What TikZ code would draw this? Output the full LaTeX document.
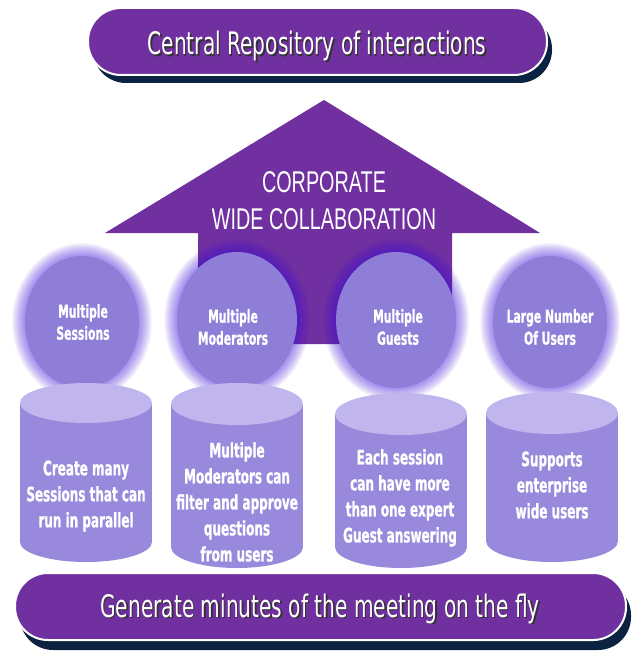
\documentclass[tikz,border=0pt]{standalone}
\usepackage{fontspec}
\newfontfamily\banfont[FakeStretch=0.65]{DejaVu Sans}
\newfontfamily\boldfont[FakeStretch=0.6,BoldFeatures={FakeBold=0.8}]{DejaVu Sans}
\newfontfamily\arrfont[FakeStretch=0.66]{Liberation Sans}
\definecolor{purp}{HTML}{7030A0}
\definecolor{navy}{HTML}{0B2240}
\definecolor{glowc}{HTML}{4010E0}
\definecolor{circ}{HTML}{8E7ED8}
\definecolor{cylbody}{HTML}{9989DC}
\definecolor{cyltop}{HTML}{C0B5EC}
\tikzset{
  bantext/.style={text=white,font=\banfont\fontsize{31}{36}\selectfont,inner sep=0pt,anchor=base},
  banshadow/.style={text=black!80,font=\banfont\fontsize{31}{36}\selectfont,inner sep=0pt,anchor=base},
  arrtext/.style={text=white,font=\arrfont\fontsize{30}{37}\selectfont,inner sep=0pt,anchor=base},
  circtext/.style={text=white,font=\boldfont\bfseries\fontsize{18}{22}\selectfont,align=center,inner sep=0pt},
  cyltext/.style={text=white,font=\boldfont\bfseries\fontsize{20}{26}\selectfont,align=center,inner sep=0pt},
}
\newcommand{\glowell}[4]{%
  \foreach \k in {0,...,13}{\fill[glowc,opacity=0.045] (#1,#2) ellipse [x radius=#3+\k, y radius=#4+\k];}%
  \fill[circ] (#1,#2) ellipse [x radius=#3, y radius=#4];}
\newcommand{\cyl}[5]{% cx, rx, topy, boty, ry
  \fill[cylbody] (#1-#2,#3) rectangle (#1+#2,#4);
  \fill[cylbody] (#1,#4) ellipse [x radius=#2, y radius=#5];
  \fill[cyltop] (#1,#3) ellipse [x radius=#2, y radius=#5];}
\begin{document}
\begin{tikzpicture}[x=1pt,y=-1pt]
\useasboundingbox (0,0) rectangle (637,655);
\fill[white] (0,0) rectangle (637,655);
% arrow
\fill[purp] (324,100) -- (540,233) -- (452,233) -- (452,344) -- (198,344) -- (198,233) -- (105,233) -- cycle;
\node[arrtext] (arr1) at (324,192) {CORPORATE};
\node[arrtext] (arr2) at (324,229) {WIDE COLLABORATION};
% circles
\glowell{82}{322}{57}{66}
\glowell{237}{320}{60}{68}
\glowell{396}{320}{60}{68}
\glowell{550}{322}{57}{66}
\node[circtext] (c1) at (83,322) {Multiple\\Sessions};
\node[circtext] (c2) at (233,327) {Multiple\\Moderators};
\node[circtext] (c3) at (398,327) {Multiple\\Guests};
\node[circtext] (c4) at (550,327) {Large Number\\Of Users};
% cylinders
\cyl{86}{66}{403}{542}{20}
\cyl{237}{66}{404}{547}{21}
\cyl{401}{66}{414}{547}{21}
\cyl{552}{66}{413}{541}{21}
\node[cyltext] (d1) at (86,496) {Create many\\Sessions that can\\run in parallel};
\node[cyltext] (d2) at (237,502) {Multiple\\Moderators can\\filter and approve\\questions\\from users};
\node[cyltext] (d3) at (400,498) {Each session\\can have more\\than one expert\\Guest answering};
\node[cyltext] (d4) at (552,485) {Supports\\enterprise\\wide users};
% top banner
\fill[navy, rounded corners=33] (93,16) rectangle (552,83);
\filldraw[fill=purp, draw=white, line width=2pt, rounded corners=33] (88,8) rectangle (547,75);
\node[banshadow] (t0) at (318.5,56.5) {Central Repository of interactions};
\node[bantext] (t1) at (317,55) {Central Repository of interactions};
% bottom banner
\fill[navy, rounded corners=33] (20,582) rectangle (631,650);
\filldraw[fill=purp, draw=white, line width=2pt, rounded corners=33] (15,573) rectangle (626,640);
\node[banshadow] (b0) at (321.5,618.5) {Generate minutes of the meeting on the fly};
\node[bantext] (b1) at (320,617) {Generate minutes of the meeting on the fly};
\end{tikzpicture}
\end{document}
